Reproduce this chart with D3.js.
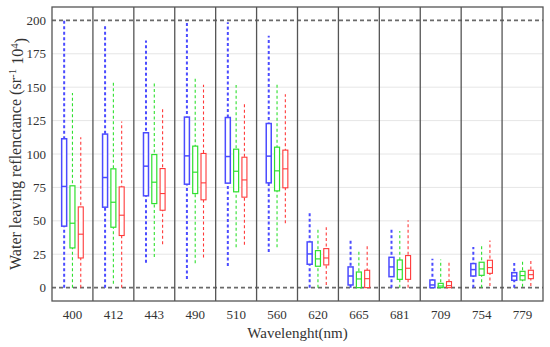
<!DOCTYPE html>
<html>
<head>
<meta charset="utf-8">
<script src="https://cdn.jsdelivr.net/npm/d3@7"></script>
<style>
  body { margin: 0; background: #fff; }
  text { font-family: "Liberation Serif", "Times New Roman", serif; fill: #333; }
</style>
</head>
<body>
<div id="chart"></div>
<script>
// wavelengths (nm), one panel each
const wavelengths = ["400", "412", "443", "490", "510", "560", "620", "665", "681", "709", "754", "779"];

// box stats per wavelength: [min, q1, median, q3, max]
const blueBoxes = [
  [0, 46, 75.7, 111.4, 200], [0, 60.2, 82.4, 114.9, 197], [18.7, 68.7, 90.9, 115.9, 185],
  [6.5, 77.4, 98.6, 127.6, 199], [16.2, 78.2, 98.1, 127.3, 198.5], [26.7, 78.4, 98.4, 122.8, 188.5],
  [0, 17.5, 25.2, 34.2, 57.4], [0, 2, 8.7, 15.5, 36.2], [0, 8.2, 15.5, 22.7, 44.9],
  [0, 0, 2, 5.7, 21.7], [0, 8.7, 13.5, 18, 30.5], [0, 5.5, 8.7, 11.2, 18.5]
];
const greenBoxes = [
  [0, 29.7, 48.2, 76.2, 145.6], [3, 45.2, 63.9, 88.9, 154.6], [23, 62.9, 78.9, 99.6, 154.6],
  [18.2, 70.4, 86.4, 105.9, 157.8], [30.2, 71.7, 87.1, 103.6, 151.6], [30.2, 72.4, 87.4, 105.1, 153.6],
  [0, 16, 21.5, 27.7, 44.4], [0, 0, 6.5, 11.7, 28.2], [0, 6.2, 13.5, 20.7, 42.4],
  [0, 0, 1.2, 3.2, 21], [0, 9.2, 14, 19, 32.5], [0.7, 5.7, 9, 12.2, 20]
];
const redBoxes = [
  [0, 22.2, 40, 60.4, 112.6], [0, 39, 54.2, 75.4, 124.3], [32.5, 57.9, 70.4, 89.1, 134.3],
  [22.5, 65.7, 78.4, 100.4, 151.8], [32, 67.7, 80.6, 97.6, 137.6], [48.2, 74.7, 88.9, 102.9, 144.8],
  [2, 17, 22.2, 29.2, 45.2], [0, 0, 6.7, 13, 31.7], [0, 6.2, 14.5, 24, 50.4],
  [0, 0, 1.5, 4.5, 20.5], [1.2, 10.7, 15, 20.5, 35.2], [1.2, 6.7, 9.7, 13, 20]
];
const yTicks = [0, 25, 50, 75, 100, 125, 150, 175, 200];

const WIDTH = 550;
const HEIGHT = 347;
const LEFT = 52, RIGHT = 543, TOP = 7, BOTTOM = 301;

const series = [
  { name: "blue", data: blueBoxes, color: "#4b4bff", box: 1.5, whisker: 2, dash: "3,2.5" },
  { name: "green", data: greenBoxes, color: "#2fe02f", box: 1.2, whisker: 1.1, dash: "3,2.5" },
  { name: "red", data: redBoxes, color: "#ff3a3a", box: 1.1, whisker: 1.1, dash: "3,2.5" }
];

const svg = d3.select("#chart").append("svg")
  .attr("width", WIDTH)
  .attr("height", HEIGHT);

const x = d3.scaleBand().domain(wavelengths).range([LEFT, RIGHT]).padding(0);
const inner = d3.scalePoint().domain(series.map(s => s.name)).range([-8.3, 8.3]);
const y = d3.scaleLinear().domain([-10, 210]).range([BOTTOM, TOP]);

// grid
svg.append("g")
  .selectAll("line")
  .data(yTicks.filter(d => d > 0 && d < 200))
  .enter().append("line")
    .attr("x1", LEFT).attr("x2", RIGHT)
    .attr("y1", d => y(d)).attr("y2", d => y(d))
    .attr("stroke", "#e6e6e6").attr("stroke-width", 1);

// reference lines at 0 and 200
svg.append("g")
  .selectAll("line")
  .data([0, 200])
  .enter().append("line")
    .attr("x1", LEFT).attr("x2", RIGHT)
    .attr("y1", d => y(d)).attr("y2", d => y(d))
    .attr("stroke", "#6a6a6a").attr("stroke-width", 1.6)
    .attr("stroke-dasharray", "4,3");

// y axis labels
const yAxis = d3.axisLeft(y).tickValues(yTicks).tickSize(0).tickPadding(6);
svg.append("g")
  .attr("transform", `translate(${LEFT}, 0)`)
  .call(yAxis)
  .call(g => g.select(".domain").remove())
  .selectAll("text")
    .style("font-size", "13px")
    .attr("fill", "#333");

// x axis labels
const xAxis = d3.axisBottom(x).tickSize(0).tickPadding(9);
svg.append("g")
  .attr("transform", `translate(0, ${BOTTOM})`)
  .call(xAxis)
  .call(g => g.select(".domain").remove())
  .selectAll("text")
    .style("font-size", "13px")
    .attr("fill", "#333");

// boxes
series.forEach(s => {
  const g = svg.append("g").attr("class", "series-" + s.name);
  const cx = (d, i) => x(wavelengths[i]) + x.bandwidth() / 2 + inner(s.name);
  const bw = 5;

  g.selectAll("line.whisker")
    .data(s.data)
    .enter().append("line")
      .attr("class", "whisker")
      .attr("x1", cx).attr("x2", cx)
      .attr("y1", d => y(d[0])).attr("y2", d => y(d[4]))
      .attr("stroke", s.color).attr("stroke-width", s.whisker)
      .attr("stroke-dasharray", s.dash);

  g.selectAll("rect")
    .data(s.data)
    .enter().append("rect")
      .attr("x", (d, i) => cx(d, i) - bw / 2)
      .attr("y", d => y(d[3]))
      .attr("width", bw)
      .attr("height", d => Math.max(y(d[1]) - y(d[3]), 0.5))
      .attr("fill", "#fff")
      .attr("stroke", s.color).attr("stroke-width", s.box);

  g.selectAll("line.median")
    .data(s.data)
    .enter().append("line")
      .attr("class", "median")
      .attr("x1", (d, i) => cx(d, i) - bw / 2).attr("x2", (d, i) => cx(d, i) + bw / 2)
      .attr("y1", d => y(d[2])).attr("y2", d => y(d[2]))
      .attr("stroke", s.color).attr("stroke-width", s.box);
});

// panel separators and frame
svg.append("g")
  .selectAll("line")
  .data(wavelengths.slice(1))
  .enter().append("line")
    .attr("x1", d => x(d)).attr("x2", d => x(d))
    .attr("y1", TOP).attr("y2", BOTTOM)
    .attr("stroke", "#555").attr("stroke-width", 1.3);

svg.append("rect")
  .attr("x", LEFT).attr("y", TOP)
  .attr("width", RIGHT - LEFT).attr("height", BOTTOM - TOP)
  .attr("fill", "none")
  .attr("stroke", "#555").attr("stroke-width", 1.3);

// axis titles
svg.append("text")
  .attr("x", (LEFT + RIGHT) / 2)
  .attr("y", 338)
  .attr("text-anchor", "middle")
  .style("font-size", "15px")
  .text("Wavelenght(nm)");

const yTitle = svg.append("text")
  .attr("transform", `translate(21, ${(TOP + BOTTOM) / 2}) rotate(-90)`)
  .attr("text-anchor", "middle")
  .style("font-size", "16px");
yTitle.append("tspan").text("Water leaving reflenctance (sr");
yTitle.append("tspan").attr("dy", "-0.45em").style("font-size", "11px").text("-1");
yTitle.append("tspan").attr("dy", "0.45em").text(" 10");
yTitle.append("tspan").attr("dy", "-0.45em").style("font-size", "11px").text("4");
yTitle.append("tspan").attr("dy", "0.45em").text(")");
</script>
</body>
</html>
